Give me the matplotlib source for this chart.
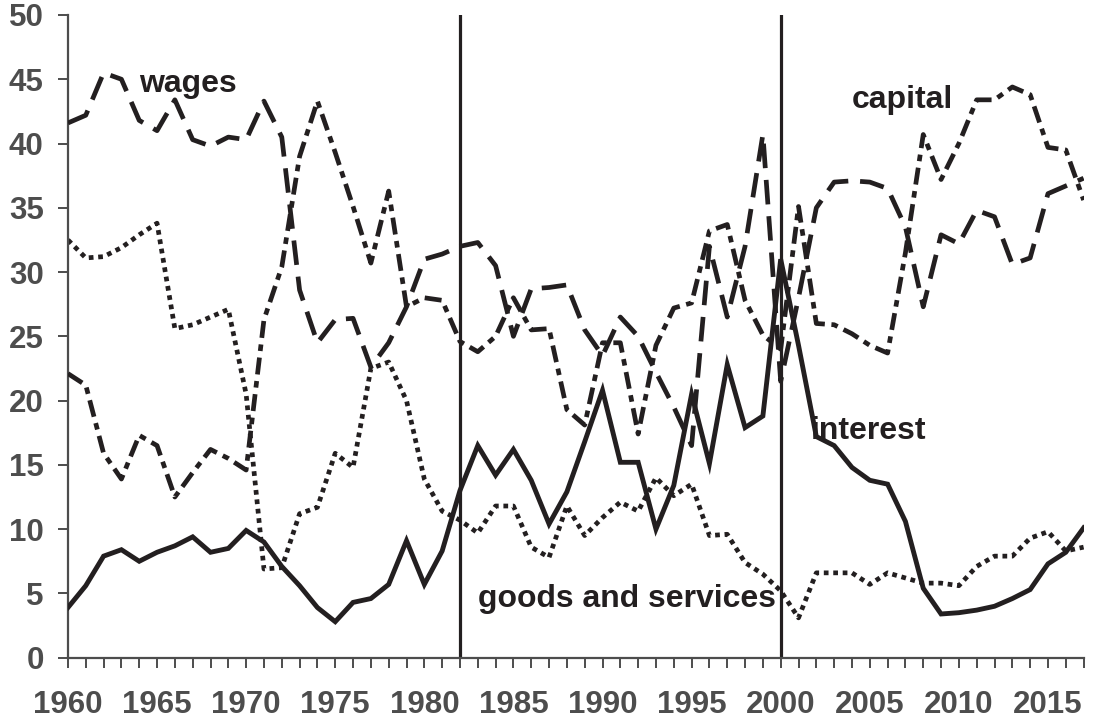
import numpy as np
import matplotlib
matplotlib.use("Agg")
import matplotlib.pyplot as plt

plt.rcParams['font.family'] = ['Liberation Sans', 'DejaVu Sans']

years = np.arange(1960, 2018)

wages = [41.6, 42.2, 45.5, 45.0, 41.8, 41.0, 43.4, 40.3, 39.8, 40.5,
         40.3, 43.3, 40.5, 28.6, 24.5, 26.3, 26.4, 22.6, 24.5, 27.3,
         31.0, 31.4, 32.0, 32.3, 30.5, 25.0, 28.7, 28.8, 29.0, 25.5,
         23.5, 26.5, 25.0, 22.2, 19.5, 16.5, 32.0, 26.5, 32.0, 40.7,
         21.5, 28.0, 35.0, 37.0, 37.1, 37.0, 36.5, 33.5, 27.3, 32.9,
         32.2, 34.8, 34.3, 30.6, 31.1, 36.1, 36.7, 37.3]

capital = [22.1, 21.2, 15.9, 13.9, 17.3, 16.5, 12.5, 14.4, 16.2, 15.5,
           14.6, 26.3, 30.4, 39.0, 43.3, 39.3, 35.1, 30.7, 36.3, 27.3,
           28.0, 27.8, 24.6, 23.8, 25.0, 28.0, 25.5, 25.6, 19.3, 18.1,
           24.5, 24.5, 17.4, 24.3, 27.2, 27.6, 33.2, 33.7, 27.8, 25.1,
           24.0, 35.1, 26.0, 25.9, 25.2, 24.3, 23.7, 31.5, 40.7, 37.2,
           40.0, 43.4, 43.4, 44.4, 43.8, 39.7, 39.5, 35.6]

interest = [3.9, 5.6, 7.9, 8.4, 7.5, 8.2, 8.7, 9.4, 8.2, 8.5,
            9.9, 9.0, 7.1, 5.6, 3.9, 2.8, 4.3, 4.6, 5.7, 9.1,
            5.7, 8.3, 13.0, 16.5, 14.2, 16.2, 13.8, 10.4, 12.9, 16.8,
            20.8, 15.2, 15.2, 10.0, 13.4, 20.5, 15.1, 22.8, 17.9, 18.8,
            31.0, 24.3, 17.2, 16.5, 14.8, 13.8, 13.5, 10.6, 5.4, 3.4,
            3.5, 3.7, 4.0, 4.6, 5.3, 7.3, 8.2, 10.1]

goods = [32.5, 31.1, 31.2, 31.9, 32.9, 33.8, 25.6, 25.9, 26.5, 27.1,
         20.5, 6.9, 7.0, 11.2, 11.7, 15.9, 14.8, 22.5, 23.0, 20.0,
         13.9, 11.4, 10.7, 9.7, 11.8, 11.8, 8.6, 7.8, 11.8, 9.5,
         10.9, 12.1, 11.4, 14.0, 12.6, 13.5, 9.5, 9.6, 7.4, 6.5,
         5.2, 3.1, 6.6, 6.6, 6.6, 5.7, 6.6, 6.2, 5.8, 5.8,
         5.6, 7.1, 7.9, 7.9, 9.3, 9.8, 8.3, 8.6]

breaks = [1982, 2000]

ink = '#231f20'
grey = '#4d4d4d'

fig = plt.figure(figsize=(10.96, 7.24), dpi=100)
ax = fig.add_axes([0.062, 0.0916, 0.9267, 0.8877])

for b in breaks:
    ax.plot([b, b], [0, 50], color=ink, lw=2.3, zorder=1)

ax.plot(years, goods, color=ink, lw=3.4, linestyle=(0, (1.0, 1.0)),
        dash_capstyle='butt', zorder=2)
ax.plot(years, capital, color=ink, lw=3.4, linestyle=(0, (3.6, 1.4, 1.4, 1.4)),
        dash_capstyle='butt', solid_joinstyle='miter', zorder=3)
ax.plot(years, wages, color=ink, lw=3.4, linestyle=(0, (5.2, 2.5)),
        dash_capstyle='butt', zorder=3)
ax.plot(years, interest, color=ink, lw=3.5, solid_joinstyle='miter', zorder=4)

lab = dict(fontsize=23, fontweight='bold', color=ink, va='center', ha='left')
ax.text(1964.0, 44.6, 'wages', **lab)
ax.text(2004.0, 43.4, 'capital', **lab)
ax.text(2001.7, 17.6, 'interest', **lab)
ax.text(1983.0, 4.6, 'goods and services', **lab)

ax.set_xlim(1960, 2017)
ax.set_ylim(0, 50)
ax.set_xticks(years)
ax.set_xticklabels([str(y) if y % 5 == 0 else '' for y in years])
ax.set_yticks(np.arange(0, 51, 5))

for s in ['top', 'right']:
    ax.spines[s].set_visible(False)
for s in ['left', 'bottom']:
    ax.spines[s].set_color(grey)
    ax.spines[s].set_linewidth(1.6)

ax.tick_params(axis='both', direction='out', length=7.5, width=1.4, color=grey,
               labelcolor=grey, labelsize=22.5)
ax.tick_params(axis='x', pad=16)
ax.tick_params(axis='y', pad=10)
for t in ax.get_xticklabels() + ax.get_yticklabels():
    t.set_fontweight('bold')

fig.savefig('out.png', dpi=100)
